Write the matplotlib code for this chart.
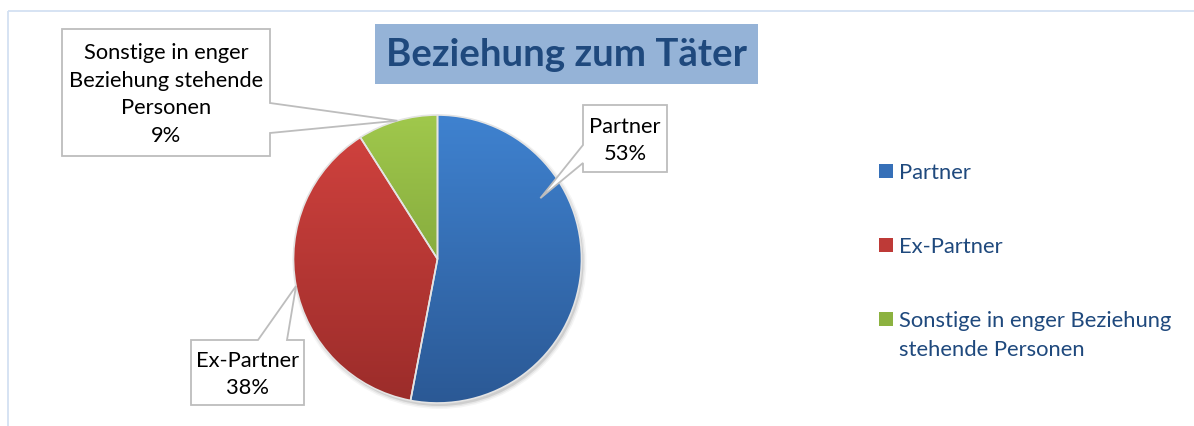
import textwrap
import numpy as np
import matplotlib
matplotlib.use("Agg")
import matplotlib.pyplot as plt
from matplotlib.patches import Rectangle, Polygon, Circle
from matplotlib.colors import to_rgb

# ---------------- data ----------------
categories = ["Partner", "Ex-Partner", "Sonstige in enger Beziehung stehende Personen"]
values = [53, 38, 9]
chart_title = "Beziehung zum Täter"

# ---------------- style ----------------
top_colors = ["#3F82D0", "#D3433F", "#A0C84C"]
bottom_colors = ["#2B5995", "#9B2C2A", "#6E9131"]
mid_colors = ["#3670B8", "#BE3A37", "#8CB240"]
FONT = "Lato"
TEXT_BLUE = "#1F497D"

W, H = 1194, 426
DPI = 100
fig = plt.figure(figsize=(W / DPI, H / DPI), dpi=DPI)
ax = fig.add_axes([0, 0, 1, 1])


def Y(y):
    return H - y


# pie geometry (pixels, image coords)
cx, cy, r = 437.5, 259.0, 144.0

# soft shadow
for k, a in [(0, 0.10), (1.5, 0.06), (3, 0.04)]:
    ax.add_patch(Circle((cx + 2, Y(cy) - 3), r + k, color="black", alpha=a,
                        lw=0, zorder=0.5))

wedges, _ = ax.pie(values, startangle=90, counterclock=False,
                   center=(cx, Y(cy)), radius=r, colors=mid_colors,
                   wedgeprops=dict(edgecolor="#E4E4E4", linewidth=1.2))
for i, w in enumerate(wedges):
    w.set_zorder(3)
    w.set_facecolor("none")
    t, b = np.array(to_rgb(top_colors[i])), np.array(to_rgb(bottom_colors[i]))
    grad = np.linspace(t, b, 256).reshape(256, 1, 3)
    im = ax.imshow(grad, extent=(cx - r, cx + r, Y(cy) - r, Y(cy) + r),
                   origin="upper", aspect="auto", zorder=2,
                   interpolation="bilinear")
    im.set_clip_path(w)

ax.set_xlim(0, W)
ax.set_ylim(0, H)
ax.set_aspect("auto")
ax.axis("off")

# chart border (top and left visible)
ax.plot([7.5, W], [Y(10.5), Y(10.5)], color="#D3E0F2", lw=1.3, zorder=1,
        solid_capstyle="butt")
ax.plot([7.5, 7.5], [Y(10.5), 0], color="#D3E0F2", lw=1.3, zorder=1,
        solid_capstyle="butt")

# title
ax.add_patch(Rectangle((375, Y(84)), 383, 60, facecolor="#95B3D7",
                       edgecolor="none", zorder=4))
title_t = ax.text(566.5, Y(55), chart_title, ha="center", va="center",
                  fontsize=22, fontweight="bold", color=TEXT_BLUE,
                  family=FONT, zorder=5)


# callouts
def tip_point(idx, frac, angle=None):
    w = wedges[idx]
    if angle is None:
        angle = 0.5 * (w.theta1 + w.theta2)
    th = np.deg2rad(angle)
    return (cx + frac * r * np.cos(th), cy - frac * r * np.sin(th))


def callout(box, side, a, b, tip):
    x0, y0, x1, y1 = box
    if side == "right":
        pts = [(x0, y0), (x1, y0), (x1, a), tip, (x1, b), (x1, y1), (x0, y1)]
    elif side == "left":
        pts = [(x0, y0), (x1, y0), (x1, y1), (x0, y1), (x0, b), tip, (x0, a)]
    else:  # top
        pts = [(x0, y0), (a, y0), tip, (b, y0), (x1, y0), (x1, y1), (x0, y1)]
    pts = [(px, Y(py)) for px, py in pts]
    ax.add_patch(Polygon(pts, closed=True, facecolor="white",
                         edgecolor="#BDBDBD", lw=1.3, zorder=6,
                         joinstyle="miter"))


callout_specs = [
    # box (x0, y0, x1, y1), side, a, b, tip (frac, angle)
    dict(box=(583, 105, 667, 172), side="left", a=145, b=163, frac=0.83, angle=30.6),
    dict(box=(191, 340, 304, 405), side="top", a=258, b=287, frac=1.0, angle=None),
    dict(box=(62, 29, 270, 156), side="right", a=103, b=133, frac=1.0, angle=None),
]

callout_texts = []
LINE = 27.8
for i, spec in enumerate(callout_specs):
    tip = tip_point(i, spec["frac"], spec["angle"])
    callout(spec["box"], spec["side"], spec["a"], spec["b"], tip)
    lines = textwrap.fill(categories[i], 18).split("\n") + [f"{values[i]}%"]
    x0, y0, x1, y1 = spec["box"]
    xc, yc = 0.5 * (x0 + x1), 0.5 * (y0 + y1)
    n = len(lines)
    for j, ln in enumerate(lines):
        yy = yc + (j - (n - 1) / 2) * LINE
        callout_texts.append(ax.text(xc, Y(yy), ln, ha="center",
                                     va="center_baseline", fontsize=14,
                                     color="black", family=FONT, zorder=7))

# legend (drawn manually)
leg_y = [171, 245, 319]
legend_texts = []
for i, cat in enumerate(categories):
    ax.add_patch(Rectangle((879, Y(leg_y[i] + 7)), 14, 14,
                           facecolor=mid_colors[i], edgecolor="none", zorder=4))
    for j, ln in enumerate(textwrap.fill(cat, 27).split("\n")):
        legend_texts.append(ax.text(899, Y(leg_y[i] + j * 29.5), ln,
                                    ha="left", va="center_baseline",
                                    fontsize=14, color=TEXT_BLUE, family=FONT,
                                    zorder=5))

# fit font sizes to measured text widths
fig.canvas.draw()
rend = fig.canvas.get_renderer()


def fit(group, ref, target):
    wpx = ref.get_window_extent(rend).width
    s = ref.get_fontsize() * target / wpx
    for t in group:
        t.set_fontsize(s)


fit([title_t], title_t, 360)
ref_c = [t for t in callout_texts if t.get_text() == "Beziehung stehende"][0]
fit(callout_texts, ref_c, 195)
ref_l = [t for t in legend_texts if t.get_text() == "Sonstige in enger Beziehung"][0]
fit(legend_texts, ref_l, 273)

fig.savefig("out.png", dpi=DPI)
